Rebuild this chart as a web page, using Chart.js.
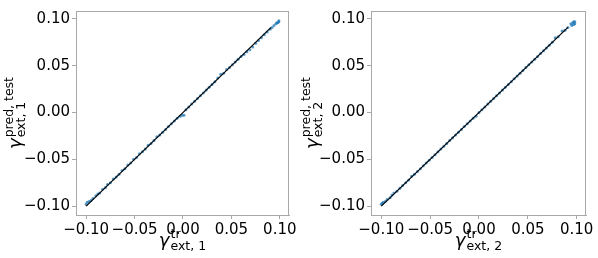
<!DOCTYPE html>
<html>
<head>
<meta charset="utf-8">
<script src="https://cdn.jsdelivr.net/npm/chart.js@4/dist/chart.umd.min.js"></script>
<style>
  html, body { margin:0; padding:0; background:#fff; }
  #wrap { position:relative; width:598px; height:258px; overflow:hidden; }
  canvas { position:absolute; top:0; }
</style>
</head>
<body>
<div id="wrap">
  <canvas id="chart-1" width="300" height="258" style="left:0"></canvas>
  <canvas id="chart-2" width="298" height="258" style="left:300px"></canvas>
</div>
<script>
// tick positions shared by both panels
var tickVals = [-0.10, -0.05, 0.00, 0.05, 0.10];

// identity reference line (black)
var refX = [-0.100, 0.091];
var refY = [-0.100, 0.091];

// panel 1: gamma_ext,1 (train) vs predicted (test)
var x1 = [-0.100,-0.099,-0.097,-0.095,-0.093,-0.090,-0.088,-0.086,-0.083,-0.080,-0.078,-0.075,-0.072,-0.069,-0.066,-0.063,-0.060,-0.057,-0.054,-0.051,-0.048,-0.045,-0.042,-0.039,-0.036,-0.033,-0.030,-0.027,-0.024,-0.021,-0.018,-0.015,-0.012,-0.009,-0.006,-0.003,-0.001,0.001,0.003,0.006,0.009,0.012,0.015,0.018,0.021,0.024,0.027,0.030,0.033,0.036,0.039,0.042,0.045,0.048,0.051,0.054,0.057,0.060,0.063,0.066,0.069,0.072,0.075,0.078,0.081,0.084,0.087,0.090,0.092,0.094,0.096,0.097,0.098,0.099,0.099];
var y1 = [-0.098,-0.096,-0.095,-0.094,-0.092,-0.089,-0.087,-0.086,-0.082,-0.080,-0.077,-0.075,-0.071,-0.069,-0.066,-0.062,-0.060,-0.056,-0.054,-0.050,-0.048,-0.044,-0.042,-0.039,-0.035,-0.033,-0.030,-0.026,-0.024,-0.021,-0.018,-0.015,-0.012,-0.009,-0.006,-0.004,-0.003,-0.003,0.003,0.006,0.009,0.012,0.015,0.018,0.021,0.024,0.027,0.030,0.033,0.037,0.041,0.042,0.046,0.048,0.051,0.054,0.057,0.060,0.062,0.065,0.067,0.070,0.074,0.077,0.080,0.083,0.086,0.089,0.091,0.093,0.095,0.096,0.096,0.097,0.098];

// panel 2: gamma_ext,2
var x2 = [-0.100,-0.099,-0.098,-0.096,-0.094,-0.091,-0.089,-0.087,-0.084,-0.081,-0.078,-0.075,-0.072,-0.069,-0.066,-0.063,-0.060,-0.057,-0.054,-0.051,-0.048,-0.045,-0.042,-0.039,-0.036,-0.033,-0.030,-0.027,-0.024,-0.021,-0.018,-0.015,-0.012,-0.009,-0.006,-0.003,0.000,0.003,0.006,0.009,0.012,0.015,0.018,0.021,0.024,0.027,0.030,0.033,0.036,0.039,0.042,0.045,0.048,0.051,0.054,0.057,0.060,0.063,0.066,0.069,0.072,0.075,0.078,0.081,0.085,0.088,0.091,0.094,0.095,0.096,0.097,0.097,0.098,0.098];
var y2 = [-0.098,-0.097,-0.096,-0.095,-0.093,-0.091,-0.088,-0.086,-0.084,-0.081,-0.078,-0.075,-0.072,-0.068,-0.066,-0.063,-0.060,-0.057,-0.054,-0.051,-0.048,-0.045,-0.042,-0.039,-0.036,-0.033,-0.030,-0.027,-0.024,-0.021,-0.018,-0.015,-0.012,-0.009,-0.006,-0.004,0.000,0.003,0.006,0.009,0.012,0.015,0.018,0.021,0.024,0.027,0.030,0.033,0.036,0.039,0.042,0.045,0.048,0.051,0.054,0.057,0.060,0.063,0.066,0.069,0.072,0.075,0.080,0.081,0.087,0.088,0.091,0.095,0.093,0.096,0.094,0.097,0.095,0.097];

var AXIS_GRAY = '#a8a8a8';
var TICK_FONT = { family: 'DejaVu Sans', size: 15 };

function fmtTick(v){
    var s = Math.abs(v).toFixed(2);
    return v < -1e-9 ? '\u2212' + s : s;
}

function toPts(xs, ys){
    return xs.map(function(x, i){ return { x: x, y: ys[i] }; });
}

// draws "base^sup_sub" like matplotlib mathtext
function drawMath(ctx, base, sup, sub, cx, cy, rot){
    ctx.save();
    ctx.translate(cx, cy);
    if (rot) ctx.rotate(rot);
    ctx.fillStyle = '#000';
    ctx.textBaseline = 'alphabetic';
    ctx.textAlign = 'left';
    ctx.font = 'italic 18px "DejaVu Sans"';
    var wb = ctx.measureText(base).width;
    ctx.font = '12.5px "DejaVu Sans"';
    var ws = Math.max(ctx.measureText(sup).width, ctx.measureText(sub).width);
    var x0 = -(wb + 1 + ws) / 2;
    ctx.font = 'italic 18px "DejaVu Sans"';
    ctx.fillText(base, x0, 0);
    ctx.font = '12.5px "DejaVu Sans"';
    ctx.fillText(sup, x0 + wb + 1, -8);
    ctx.fillText(sub, x0 + wb + 1, 4);
    ctx.restore();
}

function makePanel(canvasId, xs, ys, idx, yAxisW, padRight, titleX){
    var frame = {
        id: 'frame',
        afterDraw: function(chart){
            var a = chart.chartArea, c = chart.ctx;
            c.save();
            c.strokeStyle = AXIS_GRAY;
            c.lineWidth = 1;
            c.strokeRect(Math.round(a.left) + 0.5, Math.round(a.top) + 0.5,
                         Math.round(a.right - a.left) - 1, Math.round(a.bottom - a.top));
            c.restore();
            var midX = (a.left + a.right) / 2, midY = (a.top + a.bottom) / 2;
            drawMath(c, '\u03b3', 'tr', 'ext, ' + idx, midX, 246, 0);
            drawMath(c, '\u03b3', 'pred, test', 'ext, ' + idx, titleX, midY, -Math.PI / 2);
        }
    };
    var axisCommon = {
        type: 'linear',
        grid: { drawOnChartArea: false, drawTicks: true, tickLength: 4, color: AXIS_GRAY },
        border: { display: true, color: AXIS_GRAY },
        afterBuildTicks: function(s){ s.ticks = tickVals.map(function(v){ return { value: v }; }); },
        ticks: { color: '#000', font: TICK_FONT, padding: 2, callback: fmtTick, autoSkip: false, maxRotation: 0 }
    };
    var cfg = {
        type: 'scatter',
        data: {
            datasets: [
                { label: 'ref', data: toPts(refX, refY), showLine: true, borderColor: '#000', borderWidth: 1.2,
                  pointRadius: 0, order: 0 },
                { label: 'test', data: toPts(xs, ys), backgroundColor: 'rgba(31,119,180,0.75)', borderWidth: 0,
                  pointRadius: 1.5, order: 1 }
            ]
        },
        options: {
            responsive: false, animation: false,
            layout: { padding: { left: 0, right: padRight, top: 5, bottom: 0 } },
            plugins: { legend: { display: false }, tooltip: { enabled: false } },
            scales: {
                x: Object.assign({}, axisCommon, { min: -0.1105, max: 0.1095,
                    afterFit: function(s){ s.height = 43; } }),
                y: Object.assign({}, axisCommon, { min: -0.1095, max: 0.1085,
                    afterFit: function(s){ s.width = yAxisW; } })
            }
        },
        plugins: [frame]
    };
    return new Chart(document.getElementById(canvasId).getContext('2d'), cfg);
}

makePanel('chart-1', x1, y1, 1, 76, 11, 21);
makePanel('chart-2', x2, y2, 2, 71, 12, 18);
</script>
</body>
</html>
